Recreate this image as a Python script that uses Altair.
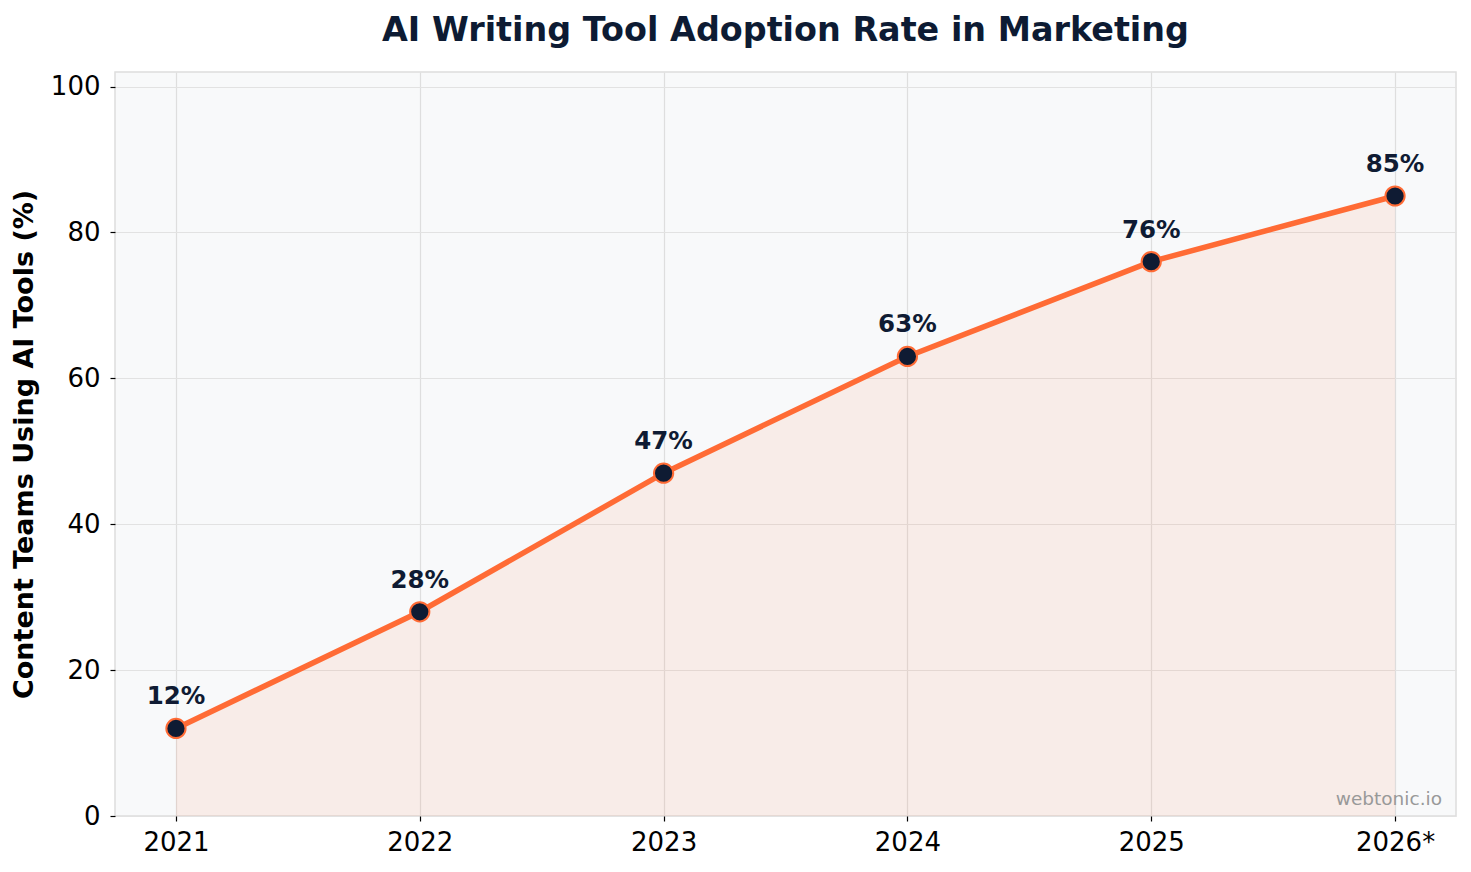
import altair as alt
import pandas as pd

years = ["2021", "2022", "2023", "2024", "2025", "2026*"]
adoption = [12, 28, 47, 63, 76, 85]

df = pd.DataFrame({"year": years, "rate": adoption})
df["label"] = [f"{v}%" for v in adoption]

ORANGE = "#ff6b35"
NAVY = "#0f1b33"
FONT = "DejaVu Sans"

x = alt.X(
    "year:N",
    sort=years,
    scale=alt.Scale(type="point", padding=0.25),
    axis=alt.Axis(
        title=None, labelAngle=0, labelFontSize=26, labelColor="#000000",
        labelPadding=8, tickSize=5, tickColor="#000000", tickWidth=1.2,
        grid=True, gridColor="#dedede", gridWidth=1.2, domain=False,
        labelFont=FONT,
    ),
)
y = alt.Y(
    "rate:Q",
    scale=alt.Scale(domain=[0, 102], nice=False, zero=True),
    axis=alt.Axis(
        title="Content Teams Using AI Tools (%)", titleFontSize=27,
        titleFontWeight="bold", titleColor="#000000", titleFont=FONT,
        titlePadding=12,
        values=[0, 20, 40, 60, 80, 100], labelFontSize=26, labelColor="#000000",
        labelFont=FONT, labelPadding=10, tickSize=5, tickColor="#000000",
        tickWidth=1.2, grid=True, gridColor="#e2e2e2", gridWidth=1.2, domain=False,
    ),
)

base = alt.Chart(df).encode(x=x, y=y)

area = base.mark_area(color=ORANGE, opacity=0.09)
line = base.mark_line(color=ORANGE, strokeWidth=5.5)
points = base.mark_point(
    shape="circle", filled=True, size=370, fill=NAVY, stroke=ORANGE,
    strokeWidth=2, opacity=1,
)
labels = base.mark_text(
    dy=-31, fontSize=24.5, fontWeight="bold", color=NAVY, font=FONT,
).encode(text="label:N")

watermark = alt.Chart(pd.DataFrame({"t": ["webtonic.io"]})).mark_text(
    align="right", baseline="bottom", fontSize=18.5, color="#999999", font=FONT,
).encode(x=alt.value(1327), y=alt.value(737), text="t:N")

chart = alt.layer(area, line, points, labels, watermark).properties(
    width=1341,
    height=744,
    background="#ffffff",
    title=alt.TitleParams(
        "AI Writing Tool Adoption Rate in Marketing", fontSize=33.4,
        fontWeight="bold", color="#0d1b33", font=FONT, anchor="middle",
        offset=24,
    ),
    autosize=alt.AutoSizeParams(type="none"),
    padding={"left": 115, "top": 72, "right": 15, "bottom": 56},
).configure_view(
    fill="#f8f9fa", stroke="#dddddd", strokeWidth=1.5,
)

chart.save("out.html", embed_options={"renderer": "svg", "actions": False})
